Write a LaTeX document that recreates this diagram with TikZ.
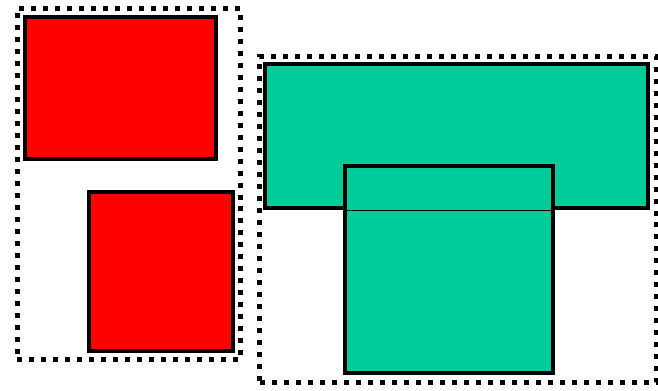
\documentclass[tikz,border=0pt]{standalone}
\usepackage{tikz}
\usetikzlibrary{positioning}
\definecolor{boxred}{RGB}{255,0,0}
\definecolor{boxgreen}{RGB}{0,204,153}

\begin{document}
\begin{tikzpicture}[
    x=0.02cm, y=-0.02cm,
    sbox/.style={rectangle, draw=black, line width=0.08cm, inner sep=0pt},
    rbox/.style={sbox, fill=boxred},
    gbox/.style={sbox, fill=boxgreen},
    gframe/.style={rectangle, draw=black, line width=0.1cm, dash pattern=on 0.1cm off 0.14cm, inner sep=0pt},
]
    \useasboundingbox (0,0) rectangle (658,390);

    % left group
    \node[gframe, minimum width=4.47cm, minimum height=7.04cm] (leftgrp) at (128.8,184) {};
    \node[rbox, minimum width=3.83cm, minimum height=2.86cm] (red1) at (120.4,88) {};
    \node[rbox, minimum width=2.87cm, minimum height=3.18cm] (red2) at (161.2,271.5) {};

    % right group
    \node[gframe, minimum width=7.93cm, minimum height=6.54cm] (rightgrp) at (457.8,219.5) {};
    \node[gbox, minimum width=7.66cm, minimum height=2.88cm] (green1) at (456.5,136.4) {};
    \node[gbox, minimum width=4.16cm, minimum height=4.15cm] (green2) at (449,269.5) {};
    \draw[line width=0.03cm] (green2.west |- green1.south) -- (green2.east |- green1.south);
\end{tikzpicture}
\end{document}
